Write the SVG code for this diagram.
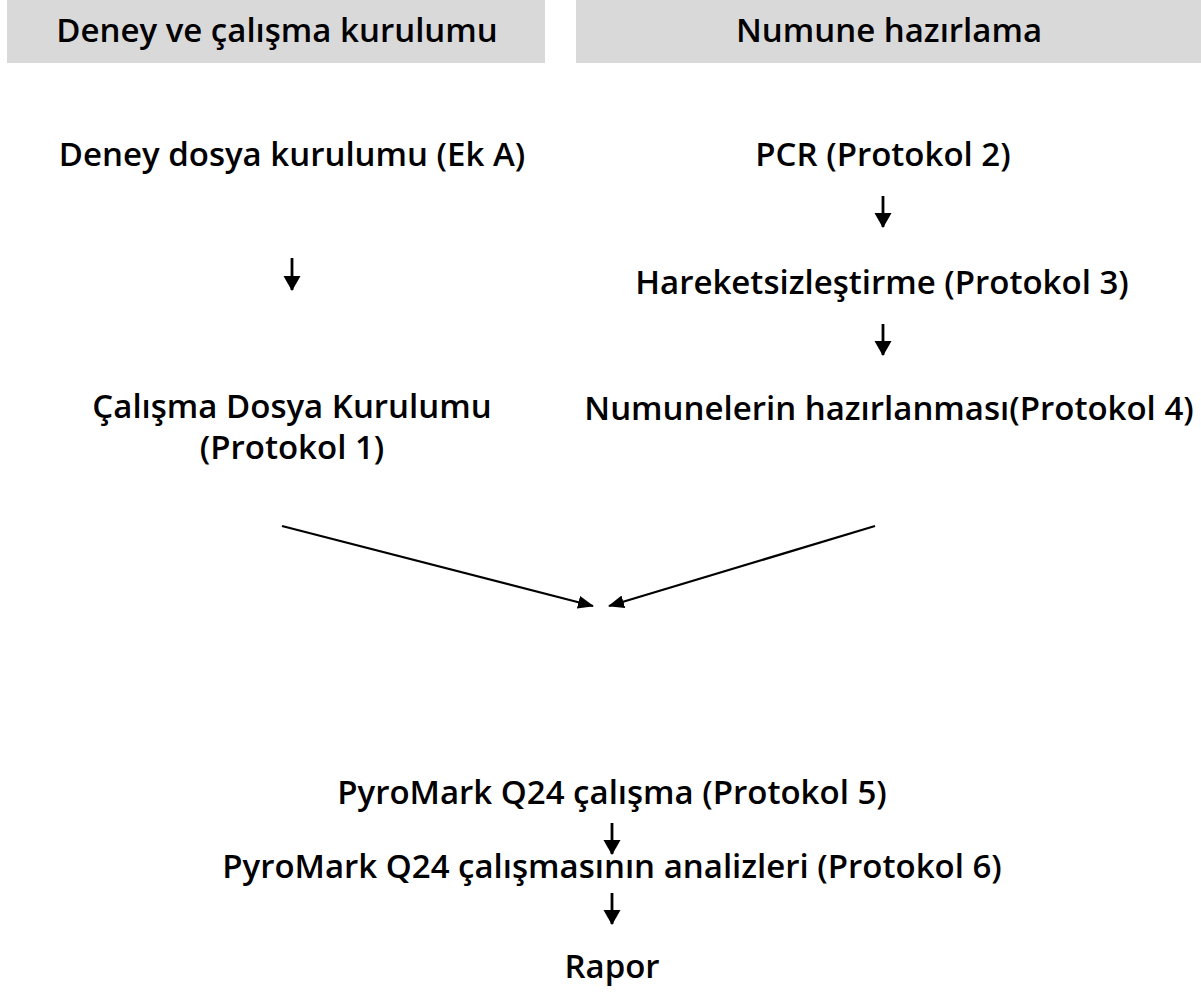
<svg xmlns="http://www.w3.org/2000/svg" width="1201" height="998" viewBox="0 0 1201 998">
<defs>
<style>
.t{font-family:"Open Sans","Noto Sans","Liberation Sans",sans-serif;font-weight:600;font-size:33px;fill:#000;text-anchor:middle}
.hdr{fill:#d9d9d9}
.c{stroke:#000;stroke-width:2.2;fill:none}
.v{stroke:#000;stroke-width:2.8;fill:none}
</style>
<marker id="ah" markerWidth="16" markerHeight="16" refX="15" refY="8" orient="auto" markerUnits="userSpaceOnUse">
<path d="M0,1.5 L16,8 L0,14.5 z" fill="#000"/>
</marker>
<marker id="av" markerWidth="16" markerHeight="18" refX="14" refY="8.5" orient="auto" markerUnits="userSpaceOnUse">
<path d="M0,0 L15,8.5 L0,17 z" fill="#000"/>
</marker>
</defs>
<rect width="1201" height="998" fill="#fff"/>
<g id="header-left"><rect class="hdr" x="7" y="0" width="538" height="63"/><text class="t" x="277" y="42">Deney ve çalışma kurulumu</text></g>
<g id="header-right"><rect class="hdr" x="576" y="0" width="625" height="63"/><text class="t" x="889" y="42">Numune hazırlama</text></g>
<g id="n-ekA"><text class="t" x="292" y="166">Deney dosya kurulumu (Ek A)</text></g>
<g id="n-p1"><text class="t" x="292" y="418">Çalışma Dosya Kurulumu</text><text class="t" x="292" y="459">(Protokol 1)</text></g>
<g id="n-p2"><text class="t" x="883" y="166">PCR (Protokol 2)</text></g>
<g id="n-p3"><text class="t" x="882" y="294">Hareketsizleştirme (Protokol 3)</text></g>
<g id="n-p4"><text class="t" x="889" y="420">Numunelerin hazırlanması(Protokol 4)</text></g>
<g id="n-p5"><text class="t" x="612" y="804">PyroMark Q24 çalışma (Protokol 5)</text></g>
<g id="n-p6"><text class="t" x="612" y="878">PyroMark Q24 çalışmasının analizleri (Protokol 6)</text></g>
<g id="n-rapor"><text class="t" x="612" y="978">Rapor</text></g>
<g id="connectors">
<line class="v" x1="292" y1="258" x2="292" y2="290" marker-end="url(#av)"/>
<line class="v" x1="883" y1="196" x2="883" y2="227" marker-end="url(#av)"/>
<line class="v" x1="883" y1="324" x2="883" y2="355" marker-end="url(#av)"/>
<line class="c" x1="282" y1="526" x2="593" y2="606" marker-end="url(#ah)"/>
<line class="c" x1="875" y1="526" x2="609" y2="606" marker-end="url(#ah)"/>
<line class="v" x1="612" y1="823" x2="612" y2="854" marker-end="url(#av)"/>
<line class="v" x1="612" y1="893" x2="612" y2="924" marker-end="url(#av)"/>
</g>
</svg>
